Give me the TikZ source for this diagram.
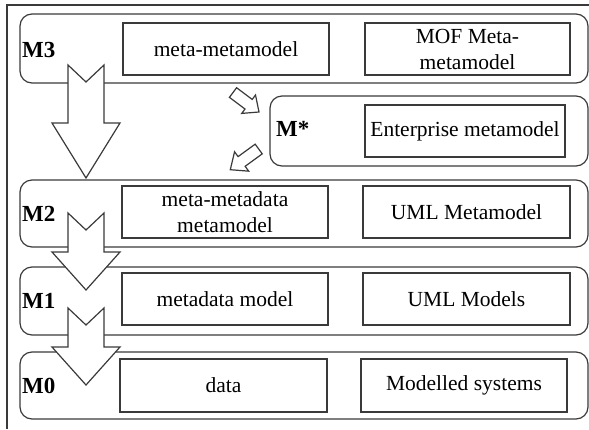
\documentclass[tikz,border=0pt]{standalone}
\usepackage{fontspec}
\setmainfont{Liberation Serif}
\usetikzlibrary{calc}
\definecolor{ln}{HTML}{3A3A3A}
\tikzset{
  layer/.style={draw=ln, line width=1.2pt, rounded corners=12pt, minimum width=568pt, inner sep=0pt},
  ibox/.style={draw=ln, line width=1.2pt, inner sep=0pt, align=center, minimum height=52pt,
     font=\fontsize{21.5}{26}\selectfont},
  lvl/.style={anchor=west, inner sep=0pt, font=\fontsize{23}{26}\selectfont\bfseries},
  arr/.style={draw=ln, line width=1.2pt, fill=white, line join=miter},
  frame/.style={draw=ln, line width=1.2pt}
}
\newcommand\flatarrow[5]{%
  \path ($(#2)!#5!(#1)$) coordinate (bc);
  \draw[arr] ($(#1)!#3!90:(#2)$) -- ($(bc)!#3!90:(#2)$) -- ($(bc)!#4!90:(#2)$) -- (#2)
     -- ($(bc)!#4!-90:(#2)$) -- ($(bc)!#3!-90:(#2)$) -- ($(#1)!#3!-90:(#2)$) -- cycle;}
\begin{document}
\begin{tikzpicture}[x=1pt,y=-1pt]
\useasboundingbox (0,0) rectangle (589,429);
% outer frame (top and left edges)
\coordinate (f1) at (589,5);
\coordinate (f2) at (7,5);
\coordinate (f3) at (7,429);
\draw[frame] (f1) -- (f2) -- (f3);
% layers
\node[layer, minimum height=69pt] (L3) at (304,48.5) {};
\node[layer, minimum width=318pt, minimum height=70pt] (Ls) at (429,131) {};
\node[layer, minimum height=67pt] (L2) at (304,213.5) {};
\node[layer, minimum height=68pt] (L1) at (304,301) {};
\node[layer, minimum height=67pt] (L0) at (304,385.5) {};
% level labels
\node[lvl] (m3) at (22,50) {M3};
\node[lvl] (ms) at (276,129) {M*};
\node[lvl] (m2) at (22,214) {M2};
\node[lvl] (m1) at (22,301) {M1};
\node[lvl] (m0) at (22,386) {M0};
% inner boxes
\node[ibox, minimum width=206pt] (b3a) at (226,49) {meta-metamodel};
\node[ibox, minimum width=205pt] (b3b) at (467.5,49) {MOF Meta-\\metamodel};
\node[ibox, minimum width=200pt] (bs) at (465,131) {Enterprise metamodel};
\node[ibox, minimum width=206pt] (b2a) at (225,212) {meta-metadata\\metamodel};
\node[ibox, minimum width=207pt] (b2b) at (466.5,212) {UML Metamodel};
\node[ibox, minimum width=206pt] (b1a) at (225,299) {metadata model};
\node[ibox, minimum width=207pt] (b1b) at (466.5,299) {UML Models};
\node[ibox, minimum width=207pt, minimum height=53pt] (b0a) at (223.5,385.5) {data};
\node[ibox, minimum width=206pt, minimum height=53pt] (b0b) at (464,385.5) {Modelled systems};
% big notched arrows
\draw[arr] (68,65) -- (86,82) -- (104,65) -- (104,123) -- (120,123) -- (86,178) -- (52,123) -- (68,123) -- cycle;
\draw[arr] (68,213) -- (86,230) -- (104,213) -- (104,252) -- (120,252) -- (86,290) -- (52,252) -- (68,252) -- cycle;
\draw[arr] (68,308) -- (86,325) -- (104,308) -- (104,347) -- (120,347) -- (86,385) -- (52,347) -- (68,347) -- cycle;
% small arrows
\coordinate (sa1) at (233,92.5);
\coordinate (sa2) at (259,112);
\flatarrow{sa1}{sa2}{6pt}{11.5pt}{13pt}
\coordinate (sb1) at (258.7,149);
\coordinate (sb2) at (230.3,169.7);
\flatarrow{sb1}{sb2}{6pt}{12pt}{14pt}
\end{tikzpicture}
\end{document}
